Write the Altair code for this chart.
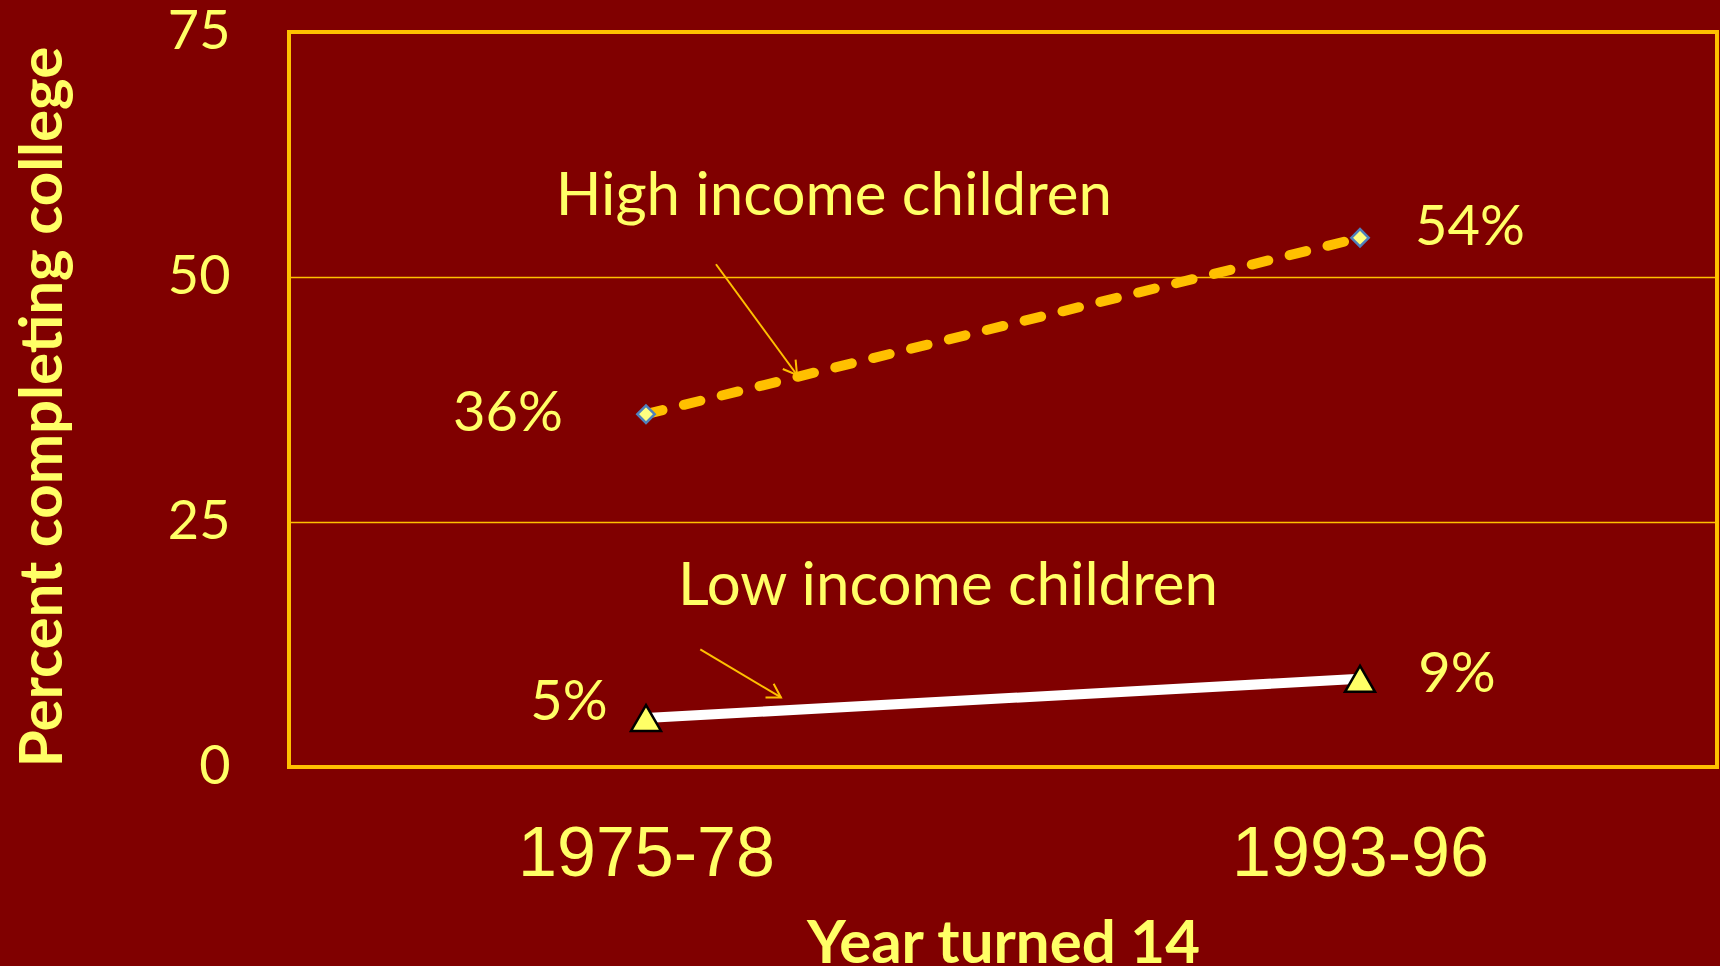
import json
import math
import altair as alt
import pandas as pd

# ---- data ----
periods = ["1975-78", "1993-96"]
period_idx = [0, 1]
high_income = [36, 54]
low_income = [5, 9]
high_labels = ["36%", "54%"]
low_labels = ["5%", "9%"]

# annotation text anchors (data coordinates)
ann_text = ["High income children", "Low income children"]
ann_x = [0.263, 0.423]
ann_y = [58.2, 18.4]

# annotation arrows (data coordinates: start -> end)
arrow_x1 = [0.098, 0.076]
arrow_y1 = [51.3, 12.0]
arrow_x2 = [0.2115, 0.189]
arrow_y2 = [40.0, 7.1]

# ---- style ----
BG = "#800000"
GOLD = "#FFC000"
TXT = "#FFFF66"
W, H = 1428, 735
XDOM = [-0.5, 1.5]
YDOM = [0, 75]

high_df = pd.DataFrame({"idx": period_idx, "val": high_income, "lab": high_labels})
low_df = pd.DataFrame({"idx": period_idx, "val": low_income, "lab": low_labels})
ann_df = pd.DataFrame({"x": ann_x, "y": ann_y, "t": ann_text})
arrow_df = pd.DataFrame({"x": arrow_x1, "y": arrow_y1, "x2": arrow_x2, "y2": arrow_y2})

label_expr = json.dumps(periods) + "[datum.value]"

x_enc = alt.X(
    "idx:Q",
    scale=alt.Scale(domain=XDOM),
    axis=alt.Axis(
        values=period_idx,
        labelExpr=label_expr,
        title="Year turned 14",
        grid=False,
        ticks=False,
        domain=False,
        labelFont="Liberation Sans",
        labelFontSize=70,
        labelColor=TXT,
        labelBaseline="alphabetic",
        labelPadding=108,
        labelLimit=0,
        titleFont="Lato",
        titleFontWeight="bold",
        titleFontSize=60,
        titleColor=TXT,
        titleBaseline="alphabetic",
        titleY=195,
        titleLimit=0,
    ),
)
y_enc = alt.Y(
    "val:Q",
    scale=alt.Scale(domain=YDOM),
    axis=alt.Axis(
        values=[0, 25, 50, 75],
        title="Percent completing college",
        grid=True,
        gridColor=GOLD,
        gridWidth=1.5,
        ticks=False,
        domain=False,
        labelFont="Lato",
        labelFontSize=54,
        labelColor=TXT,
        labelPadding=59,
        labelBaseline="middle",
        titleFont="Lato",
        titleFontWeight="bold",
        titleFontSize=60,
        titleColor=TXT,
        titleAngle=270,
        titleBaseline="middle",
        titleAnchor="middle",
        titleX=-246,
        titleY=H / 2 + 7,
        titleLimit=0,
    ),
)

high_line = alt.Chart(high_df).mark_line(
    color=GOLD, strokeWidth=10, strokeDash=[17, 22], strokeCap="round"
).encode(x=x_enc, y=y_enc)

low_line = alt.Chart(low_df).mark_line(color="white", strokeWidth=10).encode(x=x_enc, y=y_enc)

high_pts = alt.Chart(high_df).mark_point(
    shape="diamond", filled=True, fill="#FFFF80", stroke="#4F81BD",
    strokeWidth=2.5, size=300, opacity=1
).encode(x=x_enc, y=y_enc)

low_pts = alt.Chart(low_df).mark_point(
    shape="triangle-up", filled=True, fill="#FFFF66", stroke="black",
    strokeWidth=2.5, size=900, opacity=1
).encode(x=x_enc, y=y_enc)

pct_style = dict(font="Lato", fontSize=56, color=TXT, align="center", baseline="middle")
ann_style = dict(font="Lato", fontSize=60, color=TXT, align="center", baseline="middle")

def pct_label(df, i, dx, dy):
    return alt.Chart(df.iloc[[i]]).mark_text(dx=dx, dy=dy, **pct_style).encode(
        x=x_enc, y=y_enc, text="lab:N"
    )

labels = [
    pct_label(high_df, 0, -138, 0),
    pct_label(high_df, 1, 110, -10),
    pct_label(low_df, 0, -77, -15),
    pct_label(low_df, 1, 97, -4),
]

ann = alt.Chart(ann_df).mark_text(**ann_style).encode(
    x=alt.X("x:Q", scale=alt.Scale(domain=XDOM)),
    y=alt.Y("y:Q", scale=alt.Scale(domain=YDOM)),
    text="t:N",
)

arrow_lines = alt.Chart(arrow_df).mark_rule(color=GOLD, strokeWidth=2).encode(
    x=alt.X("x:Q", scale=alt.Scale(domain=XDOM)),
    y=alt.Y("y:Q", scale=alt.Scale(domain=YDOM)),
    x2="x2:Q",
    y2="y2:Q",
)

arrow_heads = []
for i in range(len(arrow_df)):
    r = arrow_df.iloc[i]
    dxp = (r["x2"] - r["x"]) * W / (XDOM[1] - XDOM[0])
    dyp = -(r["y2"] - r["y"]) * H / (YDOM[1] - YDOM[0])
    ang = math.degrees(math.atan2(dyp, dxp)) % 360
    head_df = pd.DataFrame({"x": [r["x2"]], "y": [r["y2"]]})
    arrow_heads.append(
        alt.Chart(head_df).mark_point(
            shape="M -1 -0.6 L 0 0 L -1 0.6", filled=False, stroke=GOLD,
            strokeWidth=2, size=700, angle=ang, opacity=1
        ).encode(
            x=alt.X("x:Q", scale=alt.Scale(domain=XDOM)),
            y=alt.Y("y:Q", scale=alt.Scale(domain=YDOM)),
        )
    )

chart = alt.layer(
    high_line, low_line, arrow_lines, *arrow_heads, high_pts, low_pts, ann, *labels
).properties(
    width=W,
    height=H,
    padding={"left": 289, "top": 32, "right": 3, "bottom": 199},
    autosize="none",
    background=BG,
).configure_view(stroke=GOLD, strokeWidth=4, fill=None)

chart.save("out.html", embed_options={"renderer": "svg", "actions": False})
